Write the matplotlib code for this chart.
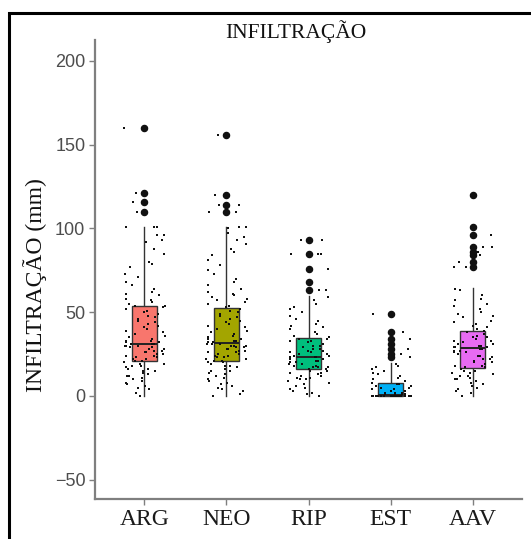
import numpy as np
import matplotlib
matplotlib.use("Agg")
import matplotlib.pyplot as plt
from matplotlib.patches import Rectangle

# ---------------- data ----------------
categories = ["ARG", "NEO", "RIP", "EST", "AAV"]
box_colors = ["#F8766D", "#A3A500", "#00BF7D", "#00B0F6", "#E76BF3"]

q1 = [21.0, 21.0, 16.4, 0.0, 16.9]
median = [31.0, 31.7, 23.3, 0.6, 28.5]
q3 = [53.5, 52.8, 34.7, 7.6, 38.9]
whisker_low = [0.0, 0.0, 0.0, 0.0, 0.0]
whisker_high = [101.0, 101.0, 59.4, 19.5, 64.4]

outliers_ARG = [160, 121, 116, 110]
outliers_NEO = [156, 120, 114, 110]
outliers_RIP = [93, 85, 76, 68, 63]
outliers_EST = [49, 38, 34, 31, 28, 25, 23]
outliers_AAV = [120, 101, 96, 89, 86, 84, 80, 77]

points_ARG = [160, 160, 121, 121, 116, 116, 110, 101, 101, 101, 96, 96, 92, 92, 93, 88, 85, 80,
              79, 77, 73, 71, 68, 66, 64, 62, 61, 60, 58, 57, 56, 55, 54, 54,
              53, 52, 51, 50, 49, 48, 47, 46, 45, 44, 43, 42, 41, 40, 39, 38, 37, 36, 35, 34,
              33, 33, 32, 32, 31, 31, 31, 30, 30, 30, 29, 29, 28, 28, 27, 27, 26, 26, 25, 25,
              24, 24, 23, 23, 22, 22, 21, 21, 20, 19, 19, 18, 18, 17, 16, 16, 15, 15, 14, 13,
              12, 12, 11, 10, 9, 8, 7, 6, 5, 4, 2, 0]
points_NEO = [156, 120, 120, 114, 114, 110, 110, 101, 101, 100, 97, 95, 93, 91, 88, 86, 84, 81,
              78, 75, 73, 70, 68, 66, 64, 62, 61, 60, 59, 58, 57, 56, 55, 54,
              53, 52, 51, 50, 49, 48, 47, 46, 45, 44, 43, 42, 41, 40, 39, 38, 37, 36, 35, 34,
              34, 33, 33, 32, 32, 31, 31, 31, 30, 30, 30, 29, 29, 28, 28, 27, 27, 26, 26, 25,
              25, 24, 24, 23, 23, 22, 22, 21, 21, 20, 20, 19, 18, 18, 17, 16, 15, 15, 14, 13,
              12, 11, 10, 9, 8, 7, 6, 5, 4, 3, 1, 0]
points_RIP = [93, 93, 85, 85, 85, 76, 68, 68, 63, 63, 59, 57, 55, 53, 52, 50, 48, 46, 45, 43,
              42, 41, 40, 38, 37, 36, 35, 34, 34, 33, 33, 32, 31, 30, 30, 29, 29, 28, 28, 27,
              27, 26, 26, 25, 25, 24, 24, 23, 23, 23, 22, 22, 21, 21, 20, 20, 19, 19, 18, 18,
              17, 17, 17, 16, 16, 15, 15, 14, 14, 13, 12, 12, 11, 11, 10, 10, 9, 8, 7, 6, 5,
              4, 3, 2, 1, 0]
points_EST = [49, 38, 34, 34, 31, 28, 25, 23, 19, 18, 17, 16, 15, 14, 13, 12, 11, 10, 9, 8,
              7, 7, 6, 6, 5, 5, 4, 4, 3, 3, 2, 2, 2, 1, 1, 1, 1, 0, 0, 0, 0, 0, 0, 0, 0, 0,
              0, 0, 0, 0, 0, 0, 0, 0, 0, 0, 0, 0, 0, 0]
points_AAV = [120, 101, 96, 89, 89, 86, 84, 80, 77, 77, 64, 63, 60, 58, 57, 55, 54, 52, 50,
              49, 48, 47, 45, 44, 43, 42, 41, 40, 39, 38, 38, 37, 36, 35, 35, 34, 33, 33, 32,
              31, 31, 30, 30, 29, 29, 29, 28, 28, 27, 27, 26, 26, 25, 24, 24, 23, 22, 22, 21,
              20, 20, 19, 18, 18, 17, 17, 16, 15, 15, 14, 14, 13, 12, 12, 11, 10, 10, 9, 8,
              7, 6, 5, 4, 3, 2, 0]

outliers = [outliers_ARG, outliers_NEO, outliers_RIP, outliers_EST, outliers_AAV]
points = [points_ARG, points_NEO, points_RIP, points_EST, points_AAV]

y_ticks = [-50, 0, 50, 100, 150, 200]
title = "INFILTRAÇÃO"
ylabel = "INFILTRAÇÃO (mm)"

# ---------------- figure ----------------
W, H = 531, 539
fig = plt.figure(figsize=(W / 100, H / 100), dpi=100)
fig.patch.set_facecolor("white")
ax = fig.add_axes([95 / W, 1 - 499 / H, (522 - 95) / W, (499 - 40) / H])

positions = np.arange(1, len(categories) + 1)
stats = []
for i in range(len(categories)):
    stats.append(dict(q1=q1[i], med=median[i], q3=q3[i],
                      whislo=whisker_low[i], whishi=whisker_high[i],
                      fliers=outliers[i], label=categories[i]))

bp = ax.bxp(stats, positions=positions, widths=0.31, showcaps=False,
            patch_artist=True, showfliers=True,
            boxprops=dict(edgecolor="#333333", linewidth=1.0),
            whiskerprops=dict(color="#333333", linewidth=1.0),
            medianprops=dict(color="#222222", linewidth=1.4),
            flierprops=dict(marker="o", markerfacecolor="#111111",
                            markeredgecolor="#111111", markersize=4.4))
for patch, c in zip(bp["boxes"], box_colors):
    patch.set_facecolor(c)
for ln in bp["whiskers"]:
    ln.set_zorder(1)

# jittered raw points (deterministic quasi-random spread)
dash = [(-1.6, -0.7), (1.6, -0.7), (1.6, 0.7), (-1.6, 0.7)]
for i, vals in enumerate(points):
    n = len(vals)
    k = np.arange(n) + 3 * i
    offs = (((k * k) * 0.7071067812 + k * 0.31) % 1.0 - 0.5) * 0.5
    ax.scatter(positions[i] + offs, vals, s=4, marker=dash, color="#111111",
               zorder=4, linewidths=0)

ax.set_xlim(0.4, 5.6)
ax.set_ylim(-61.5, 212.5)
ax.set_yticks(y_ticks)
ax.set_xticks(positions)
ax.set_xticklabels(categories, family="Liberation Serif", fontsize=17, color="#1a1a1a")
for lab in ax.get_yticklabels():
    lab.set_family("Liberation Sans")
    lab.set_fontsize(13)
    lab.set_color("#4d4d4d")

for s in ["top", "right"]:
    ax.spines[s].set_visible(False)
for s in ["left", "bottom"]:
    ax.spines[s].set_color("#7f7f7f")
    ax.spines[s].set_linewidth(1.6)
ax.tick_params(axis="both", color="#7f7f7f", length=4, width=1.0, pad=3)

fig.text(296 / W, 1 - 32 / H, title, family="Liberation Serif", fontsize=15.5,
         ha="center", va="center", color="#111111")
fig.text(35 / W, 1 - 285 / H, ylabel, family="Liberation Serif", fontsize=17,
         rotation=90, ha="center", va="center", color="#111111")

# outer frame (cropped on right and bottom)
fig.patches.append(Rectangle((9 / W, -0.05), 1.2, (539 - 13) / H + 0.05,
                             transform=fig.transFigure, fill=False,
                             edgecolor="black", linewidth=2.2))

fig.savefig("out.png", dpi=100, facecolor="white")
